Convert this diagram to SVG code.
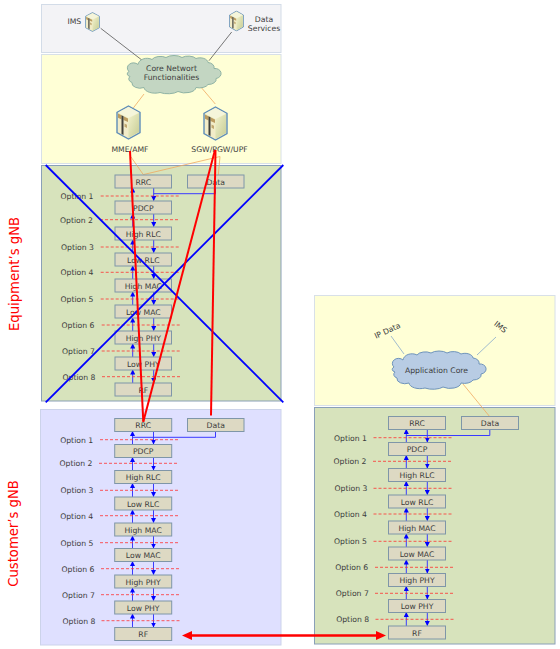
<svg xmlns="http://www.w3.org/2000/svg" width="560" height="649" viewBox="0 0 560 649">
<style>
text{font-family:"DejaVu Sans",Verdana,sans-serif;font-size:7.700px;fill:#3c3c3c;text-anchor:middle}
.b{fill:#ddd9c3;stroke:#7f96a8;stroke-width:1}
.dash{stroke:#ff3030;stroke-width:.8;stroke-dasharray:3 2}
.u{stroke:#3a3aff;stroke-width:1;marker-end:url(#ah)}
.d{stroke:#3a3aff;stroke-width:1;fill:none}
.or{stroke:#f0a860;stroke-width:.8;fill:none}
.gr{stroke:#555;stroke-width:.8}
.bl{stroke:#88aacc;stroke-width:.8}
.red{stroke:#f00;stroke-width:2;fill:none}
.x{stroke:#00f;stroke-width:1.8}
.side{font-size:13.200px;fill:#f00}
</style>
<defs>
<marker id="ah" markerUnits="userSpaceOnUse" markerWidth="5" markerHeight="5" refX="4.500" refY="2.500" orient="auto"><path d="M0 0L5 2.500L0 5Z" fill="#00f"/></marker>
<path id="cl" d="M5 17A6 5 0 0 1 14 10A9 7 0 0 1 28 5A9 5 0 0 1 42 3A10 5 0 0 1 58 3A9 5 0 0 1 72 4A8 5 0 0 1 84 8A7 5 0 0 1 90 14A6 5 0 0 1 92 24A8 5 0 0 1 84 30A9 5 0 0 1 72 33A11 6 0 0 1 54 37A12 5 0 0 1 36 38A11 6 0 0 1 20 33A8 5 0 0 1 8 28A6 4 0 0 1 6 22A5 3 0 0 1 5 17Z"/>
<linearGradient id="sf" x1="0" y1="0" x2="1" y2="1"><stop offset="0" stop-color="#f2f2cc"/><stop offset="1" stop-color="#c6cc94"/></linearGradient>
<symbol id="srv" viewBox="0 0 25 35" preserveAspectRatio="none">
<path d="M12.500 1L24 7.500V27.500L12.500 34L1 27.500V7.500Z" fill="#eeeec4" stroke="#5f8db8" stroke-width="1.400"/>
<path d="M12.500 13.500L23 8V27L12.500 33Z" fill="url(#sf)"/>
<path d="M12.500 2L23 7.500L12.500 13L2 7.500Z" fill="#f5f5da"/>
<path d="M2 8.500L12 13.500V32.500L2 27Z" fill="#f2ecc8"/>
<path d="M2 8.500L5.500 10.300V14.500L2 12.700Z" fill="#bb9c60"/>
<path d="M7.500 11.300L12 13.600V17L7.500 15Z" fill="#bb9c60"/>
<path d="M8.500 18.500L11 19.700V23L8.500 21.800Z" fill="#c0a870"/>
<path d="M5.500 10.300L7.500 11.300V30L5.500 29Z" fill="#40403a"/>
</symbol>
</defs>
<rect width="560" height="649" fill="#fff"/>
<g id="panels">
<rect x="41.500" y="4.500" width="239.500" height="48" fill="#f3f3f6" stroke="#d3dce8"/>
<rect x="41.500" y="54.500" width="239.500" height="109" fill="#ffffd6" stroke="#d8e0e8"/>
<rect x="41.500" y="165.500" width="239.500" height="235.500" fill="#d7e3bc" stroke="#8aa0b8"/>
<rect x="40.500" y="409.500" width="240.500" height="235.500" fill="#dfe0ff" stroke="#ccd3ea"/>
<rect x="314.500" y="295.500" width="240.500" height="110" fill="#ffffd6" stroke="#d8e0e8"/>
<rect x="314.500" y="407.500" width="240.500" height="236.500" fill="#d7e3bc" stroke="#8aa0b8"/>
</g>
<g id="core-lines">
<line class="gr" x1="100.700" y1="28.300" x2="144" y2="61.700"/>
<line class="gr" x1="231.700" y1="32" x2="209" y2="60.700"/>
<line class="or" x1="144" y1="94" x2="133.300" y2="108"/>
<line class="or" x1="200" y1="86" x2="215.300" y2="104"/>
<path class="or" d="M131 157L143.300 174.600L220 156.500L218.300 175"/>
<line class="bl" x1="391" y1="336" x2="404" y2="354"/>
<line class="bl" x1="496" y1="337" x2="477" y2="355"/>
<line class="or" x1="463" y1="384" x2="490" y2="417"/>
</g>
<g id="ims"><use href="#srv" x="85" y="12" width="15" height="20"/><text x="74.300" y="23.500">IMS</text></g>
<g id="data-services"><use href="#srv" x="229" y="10.500" width="15" height="21"/><text x="264" y="21.500">Data</text><text x="264" y="31">Services</text></g>
<g id="core-cloud"><use href="#cl" transform="translate(124,54.500)" fill="#c3d6c2" stroke="#8fb3a4"/><text x="171.500" y="71">Core Networt</text><text x="171.500" y="80">Functionalities</text></g>
<g id="mme"><use href="#srv" x="116" y="105" width="25" height="35"/><text x="130" y="151.500">MME/AMF</text></g>
<g id="sgw"><use href="#srv" x="203" y="106" width="25" height="35"/><text x="219.500" y="151.500">SGW/PGW/UPF</text></g>
<g id="app-cloud"><use href="#cl" transform="translate(389,350)" fill="#b8cce4" stroke="#6f94bb"/><text x="436.500" y="372.500">Application Core</text></g>
<g id="ip-data"><text transform="translate(388.500,333) rotate(-25)">IP Data</text></g>
<g id="ims-right"><text transform="translate(499,329) rotate(38)">IMS</text></g>

<g id="connectors">
<line class="u" x1="132.700" y1="201" x2="132.700" y2="188"/><line class="u" x1="153.700" y1="188" x2="153.700" y2="200.500"/>
<line class="u" x1="132.700" y1="227" x2="132.700" y2="214"/><line class="u" x1="153.700" y1="214" x2="153.700" y2="226.500"/>
<line class="u" x1="132.700" y1="253" x2="132.700" y2="240"/><line class="u" x1="153.700" y1="240" x2="153.700" y2="252.500"/>
<line class="u" x1="132.700" y1="279" x2="132.700" y2="266"/><line class="u" x1="153.700" y1="266" x2="153.700" y2="278.500"/>
<line class="u" x1="132.700" y1="305" x2="132.700" y2="292"/><line class="u" x1="153.700" y1="292" x2="153.700" y2="304.500"/>
<line class="u" x1="132.700" y1="331" x2="132.700" y2="318"/><line class="u" x1="153.700" y1="318" x2="153.700" y2="330.500"/>
<line class="u" x1="132.700" y1="357" x2="132.700" y2="344"/><line class="u" x1="153.700" y1="344" x2="153.700" y2="356.500"/>
<line class="u" x1="132.700" y1="383" x2="132.700" y2="370"/><line class="u" x1="153.700" y1="370" x2="153.700" y2="382.500"/>
<path class="d" d="M215.500 188V193.700H153.700"/>
<line class="u" x1="132.500" y1="444.500" x2="132.500" y2="431.500"/><line class="u" x1="153.500" y1="431.500" x2="153.500" y2="444"/>
<line class="u" x1="132.500" y1="470.500" x2="132.500" y2="457.500"/><line class="u" x1="153.500" y1="457.500" x2="153.500" y2="470"/>
<line class="u" x1="132.500" y1="497" x2="132.500" y2="483.500"/><line class="u" x1="153.500" y1="483.500" x2="153.500" y2="496.500"/>
<line class="u" x1="132.500" y1="523" x2="132.500" y2="510"/><line class="u" x1="153.500" y1="510" x2="153.500" y2="522.500"/>
<line class="u" x1="132.500" y1="548.500" x2="132.500" y2="536"/><line class="u" x1="153.500" y1="536" x2="153.500" y2="548"/>
<line class="u" x1="132.500" y1="575" x2="132.500" y2="561.500"/><line class="u" x1="153.500" y1="561.500" x2="153.500" y2="574.500"/>
<line class="u" x1="132.500" y1="601" x2="132.500" y2="588"/><line class="u" x1="153.500" y1="588" x2="153.500" y2="600.500"/>
<line class="u" x1="132.500" y1="627.500" x2="132.500" y2="614"/><line class="u" x1="153.500" y1="614" x2="153.500" y2="627"/>
<path class="d" d="M215.500 431.500V437.300H132.500"/>
<line class="u" x1="406.300" y1="442.500" x2="406.300" y2="429.500"/><line class="u" x1="427.300" y1="429.500" x2="427.300" y2="442"/>
<line class="u" x1="406.300" y1="468.500" x2="406.300" y2="455.500"/><line class="u" x1="427.300" y1="455.500" x2="427.300" y2="468"/>
<line class="u" x1="406.300" y1="495" x2="406.300" y2="481.500"/><line class="u" x1="427.300" y1="481.500" x2="427.300" y2="494.500"/>
<line class="u" x1="406.300" y1="521" x2="406.300" y2="508"/><line class="u" x1="427.300" y1="508" x2="427.300" y2="520.500"/>
<line class="u" x1="406.300" y1="547" x2="406.300" y2="534"/><line class="u" x1="427.300" y1="534" x2="427.300" y2="546.500"/>
<line class="u" x1="406.300" y1="573.500" x2="406.300" y2="560"/><line class="u" x1="427.300" y1="560" x2="427.300" y2="573"/>
<line class="u" x1="406.300" y1="599.500" x2="406.300" y2="586.500"/><line class="u" x1="427.300" y1="586.500" x2="427.300" y2="599"/>
<line class="u" x1="406.300" y1="626" x2="406.300" y2="612.500"/><line class="u" x1="427.300" y1="612.500" x2="427.300" y2="625.500"/>
<path class="d" d="M489.800 429.500V435.500H406.300"/>
</g>

<g id="option-lines">
<line class="dash" x1="100.700" y1="196" x2="179" y2="196"/><line class="dash" x1="100" y1="219.700" x2="178.300" y2="219.700"/><line class="dash" x1="100.700" y1="247" x2="179" y2="247"/><line class="dash" x1="100.700" y1="272.300" x2="179" y2="272.300"/><line class="dash" x1="100.700" y1="299" x2="179" y2="299"/><line class="dash" x1="101.700" y1="325" x2="180" y2="325"/><line class="dash" x1="101.700" y1="351" x2="180" y2="351"/><line class="dash" x1="102" y1="376.700" x2="180.500" y2="376.700"/>
<line class="dash" x1="100" y1="439.700" x2="179" y2="439.700"/><line class="dash" x1="99" y1="463.300" x2="178" y2="463.300"/><line class="dash" x1="100" y1="490.300" x2="179" y2="490.300"/><line class="dash" x1="100" y1="515.700" x2="179" y2="515.700"/><line class="dash" x1="100" y1="542.700" x2="179" y2="542.700"/><line class="dash" x1="101" y1="568.700" x2="180" y2="568.700"/><line class="dash" x1="101" y1="594.700" x2="180" y2="594.700"/><line class="dash" x1="101.500" y1="620.700" x2="180.500" y2="620.700"/>
<line class="dash" x1="373.500" y1="437.700" x2="452.700" y2="437.700"/><line class="dash" x1="373" y1="461.300" x2="452" y2="461.300"/><line class="dash" x1="373.500" y1="488.300" x2="452.700" y2="488.300"/><line class="dash" x1="373.500" y1="514" x2="452.700" y2="514"/><line class="dash" x1="373.500" y1="541.300" x2="452.700" y2="541.300"/><line class="dash" x1="375" y1="567.300" x2="454" y2="567.300"/><line class="dash" x1="375" y1="593.300" x2="454" y2="593.300"/><line class="dash" x1="375.500" y1="619.300" x2="454.500" y2="619.300"/>
</g>

<g id="option-labels">
<text x="77" y="199">Option 1</text><text x="76.500" y="222.700">Option 2</text><text x="77.500" y="250">Option 3</text><text x="77" y="275.300">Option 4</text><text x="77" y="302">Option 5</text><text x="78" y="328">Option 6</text><text x="78.500" y="354">Option 7</text><text x="79" y="379.700">Option 8</text>
<text x="76.700" y="442.700">Option 1</text><text x="76" y="466.300">Option 2</text><text x="77" y="493.300">Option 3</text><text x="76.700" y="518.700">Option 4</text><text x="77" y="545.700">Option 5</text><text x="78" y="571.700">Option 6</text><text x="78.500" y="597.700">Option 7</text><text x="79" y="623.700">Option 8</text>
<text x="350.500" y="440.700">Option 1</text><text x="350" y="464.300">Option 2</text><text x="351" y="491.300">Option 3</text><text x="350.500" y="517">Option 4</text><text x="350.500" y="544.300">Option 5</text><text x="351.700" y="570.300">Option 6</text><text x="352.300" y="596.300">Option 7</text><text x="352.700" y="622.300">Option 8</text>
</g>

<g id="eq-rrc" transform="translate(115,175)"><rect class="b" width="56.500" height="13"/><text x="28.300" y="9.500">RRC</text></g>
<g id="eq-data" transform="translate(187.500,175)"><rect class="b" width="56.500" height="13"/><text x="28.300" y="9.500">Data</text></g>
<g id="eq-pdcp" transform="translate(115,201)"><rect class="b" width="56.500" height="13"/><text x="28.300" y="9.500">PDCP</text></g>
<g id="eq-hrlc" transform="translate(115,227)"><rect class="b" width="56.500" height="13"/><text x="28.300" y="9.500">High RLC</text></g>
<g id="eq-lrlc" transform="translate(115,253)"><rect class="b" width="56.500" height="13"/><text x="28.300" y="9.500">Low RLC</text></g>
<g id="eq-hmac" transform="translate(115,279)"><rect class="b" width="56.500" height="13"/><text x="28.300" y="9.500">High MAC</text></g>
<g id="eq-lmac" transform="translate(115,305)"><rect class="b" width="56.500" height="13"/><text x="28.300" y="9.500">Low MAC</text></g>
<g id="eq-hphy" transform="translate(115,331)"><rect class="b" width="56.500" height="13"/><text x="28.300" y="9.500">High PHY</text></g>
<g id="eq-lphy" transform="translate(115,357)"><rect class="b" width="56.500" height="13"/><text x="28.300" y="9.500">Low PHY</text></g>
<g id="eq-rf" transform="translate(115,383)"><rect class="b" width="56.500" height="13"/><text x="28.300" y="9.500">RF</text></g>

<g id="cu-rrc" transform="translate(114.700,418.500)"><rect class="b" width="57" height="13"/><text x="28.500" y="9.500">RRC</text></g>
<g id="cu-data" transform="translate(187.500,418.500)"><rect class="b" width="56.500" height="13"/><text x="28.300" y="9.500">Data</text></g>
<g id="cu-pdcp" transform="translate(114.700,444.500)"><rect class="b" width="57" height="13"/><text x="28.500" y="9.500">PDCP</text></g>
<g id="cu-hrlc" transform="translate(114.700,470.500)"><rect class="b" width="57" height="13"/><text x="28.500" y="9.500">High RLC</text></g>
<g id="cu-lrlc" transform="translate(114.700,497)"><rect class="b" width="57" height="13"/><text x="28.500" y="9.500">Low RLC</text></g>
<g id="cu-hmac" transform="translate(114.700,523)"><rect class="b" width="57" height="13"/><text x="28.500" y="9.500">High MAC</text></g>
<g id="cu-lmac" transform="translate(114.700,548.500)"><rect class="b" width="57" height="13"/><text x="28.500" y="9.500">Low MAC</text></g>
<g id="cu-hphy" transform="translate(114.700,575)"><rect class="b" width="57" height="13"/><text x="28.500" y="9.500">High PHY</text></g>
<g id="cu-lphy" transform="translate(114.700,601)"><rect class="b" width="57" height="13"/><text x="28.500" y="9.500">Low PHY</text></g>
<g id="cu-rf" transform="translate(114.700,627.500)"><rect class="b" width="57" height="13"/><text x="28.500" y="9.500">RF</text></g>

<g id="ap-rrc" transform="translate(388.500,416.500)"><rect class="b" width="57" height="13"/><text x="28.500" y="9.500">RRC</text></g>
<g id="ap-data" transform="translate(461.500,416.500)"><rect class="b" width="57" height="13"/><text x="28.500" y="9.500">Data</text></g>
<g id="ap-pdcp" transform="translate(388.500,442.500)"><rect class="b" width="57" height="13"/><text x="28.500" y="9.500">PDCP</text></g>
<g id="ap-hrlc" transform="translate(388.500,468.500)"><rect class="b" width="57" height="13"/><text x="28.500" y="9.500">High RLC</text></g>
<g id="ap-lrlc" transform="translate(388.500,495)"><rect class="b" width="57" height="13"/><text x="28.500" y="9.500">Low RLC</text></g>
<g id="ap-hmac" transform="translate(388.500,521)"><rect class="b" width="57" height="13"/><text x="28.500" y="9.500">High MAC</text></g>
<g id="ap-lmac" transform="translate(388.500,547)"><rect class="b" width="57" height="13"/><text x="28.500" y="9.500">Low MAC</text></g>
<g id="ap-hphy" transform="translate(388.500,573.500)"><rect class="b" width="57" height="13"/><text x="28.500" y="9.500">High PHY</text></g>
<g id="ap-lphy" transform="translate(388.500,599.500)"><rect class="b" width="57" height="13"/><text x="28.500" y="9.500">Low PHY</text></g>
<g id="ap-rf" transform="translate(388.500,626)"><rect class="b" width="57" height="13"/><text x="28.500" y="9.500">RF</text></g>

<g id="cross">
<line class="x" x1="45.700" y1="165" x2="283.300" y2="402.300"/>
<line class="x" x1="283.300" y1="165" x2="45.700" y2="402.300"/>
</g>
<g id="red-links">
<line class="red" x1="130" y1="151" x2="143.300" y2="421.700"/>
<line class="red" x1="215" y1="150" x2="143.300" y2="421.700"/>
<line class="red" x1="215.500" y1="150" x2="211" y2="415.500"/>
<line class="red" style="stroke-width:2.500" x1="190" y1="635.500" x2="378" y2="635.500"/>
<path d="M182 635.500L192 631V640Z" fill="#f00"/><path d="M386 635.500L376 631V640Z" fill="#f00"/>
</g>
<g id="side-labels">
<text class="side" transform="translate(18.500,274) rotate(-90)">Equipment’s gNB</text>
<text class="side" transform="translate(18,533.500) rotate(-90)">Customer’s gNB</text>
</g>
</svg>
